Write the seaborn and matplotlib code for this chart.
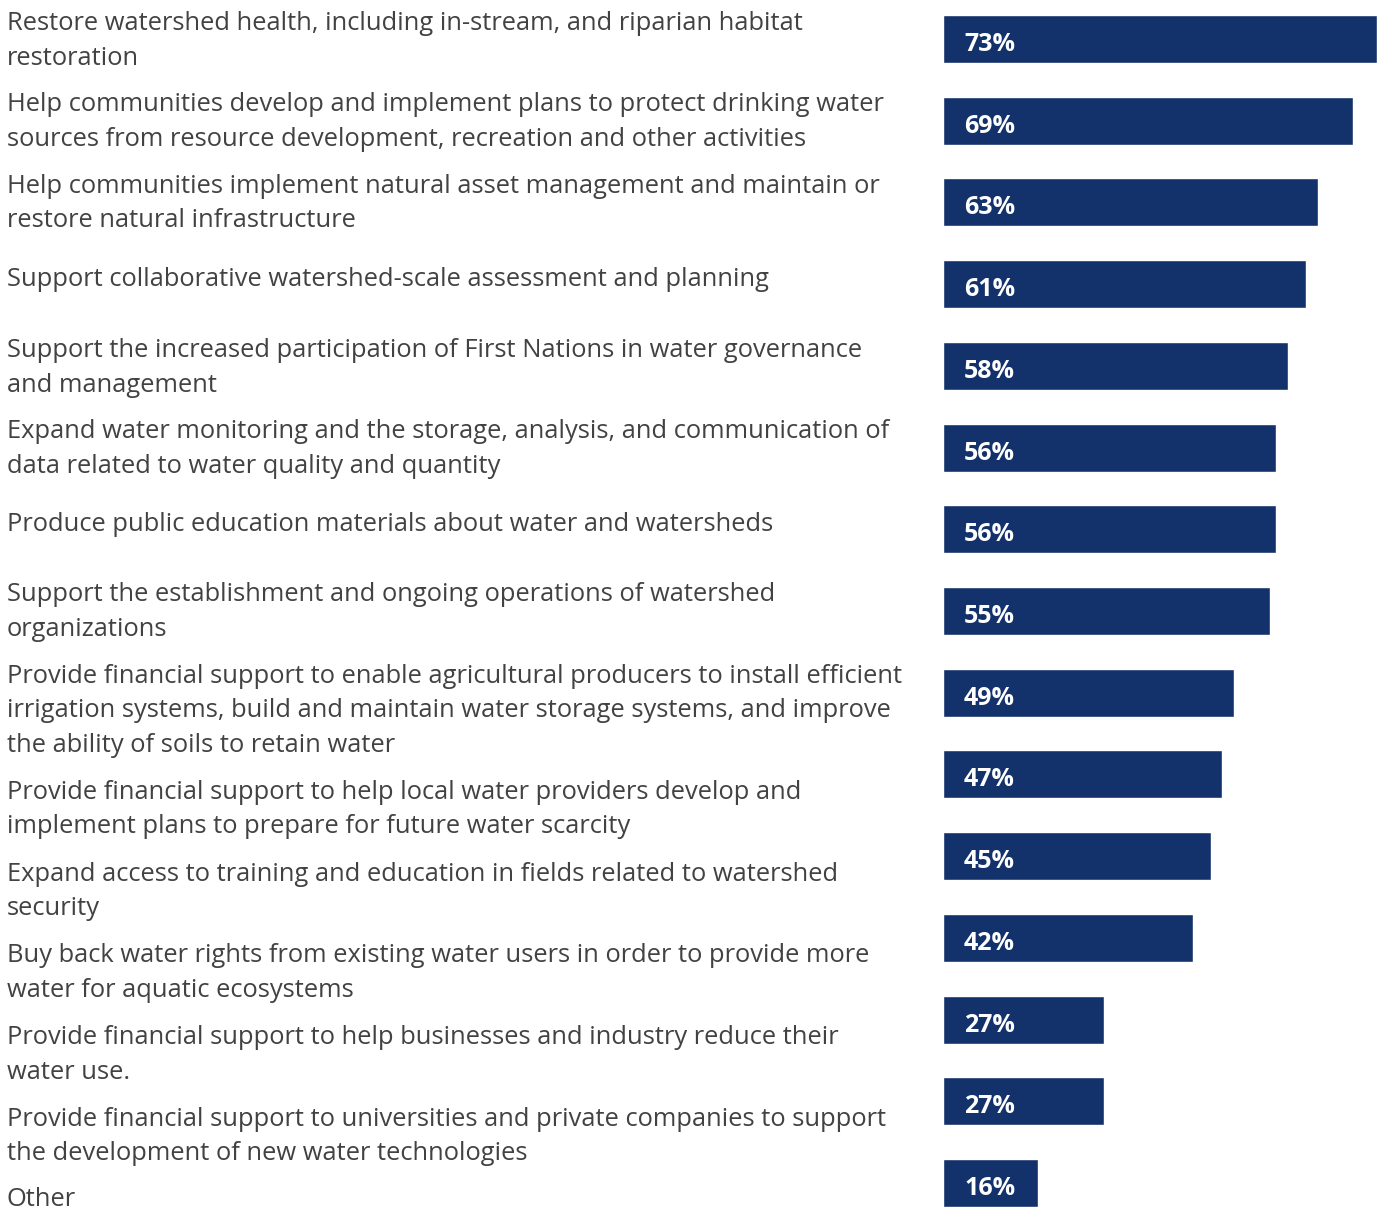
import matplotlib
matplotlib.use("Agg")
import matplotlib.pyplot as plt
import matplotlib.transforms as mtransforms
import seaborn as sns
import pandas as pd

categories = [
    "Restore watershed health, including in-stream, and riparian habitat\nrestoration",
    "Help communities develop and implement plans to protect drinking water\nsources from resource development, recreation and other activities",
    "Help communities implement natural asset management and maintain or\nrestore natural infrastructure",
    "Support collaborative watershed-scale assessment and planning",
    "Support the increased participation of First Nations in water governance\nand management",
    "Expand water monitoring and the storage, analysis, and communication of\ndata related to water quality and quantity",
    "Produce public education materials about water and watersheds",
    "Support the establishment and ongoing operations of watershed\norganizations",
    "Provide financial support to enable agricultural producers to install efficient\nirrigation systems, build and maintain water storage systems, and improve\nthe ability of soils to retain water",
    "Provide financial support to help local water providers develop and\nimplement plans to prepare for future water scarcity",
    "Expand access to training and education in fields related to watershed\nsecurity",
    "Buy back water rights from existing water users in order to provide more\nwater for aquatic ecosystems",
    "Provide financial support to help businesses and industry reduce their\nwater use.",
    "Provide financial support to universities and private companies to support\nthe development of new water technologies",
    "Other",
]
percentages = [73, 69, 63, 61, 58, 56, 56, 55, 49, 47, 45, 42, 27, 27, 16]

# vertical shift (pixels, downward) of each label's first baseline from its bar centre
label_shift_px = [-9, -10, -10, 2, -9, -10, 2, -10, -11, 24, 24, 24, 24, 24, 23]
line_step_px = 35

df = pd.DataFrame({"item": categories, "pct": percentages})

sns.set_theme(style="white")
plt.rcParams["font.family"] = ["Open Sans", "DejaVu Sans"]

W, H = 1381, 1207
fig = plt.figure(figsize=(W / 100, H / 100), dpi=100)

step = (1183 - 39) / 14
top_px = 39 - step / 2
bot_px = 1183 + step / 2
x0, x1 = 943, 1377
ax = fig.add_axes([x0 / W, (H - bot_px) / H, (x1 - x0) / W, (bot_px - top_px) / H])

bar_color = "#13326b"
sns.barplot(data=df, y="item", x="pct", orient="h", color=bar_color,
            width=48 / step, saturation=1, ax=ax)
ax.set_xlim(0, 73)
ax.set_ylim(len(categories) - 0.5, -0.5)
ax.axis("off")

text_color = "#424242"
for i, (label, val) in enumerate(zip(categories, percentages)):
    n_lines = label.count("\n") + 1
    shift = label_shift_px[i] + (n_lines - 1) * line_step_px
    trans = mtransforms.blended_transform_factory(fig.transFigure, ax.transData)
    trans = trans + mtransforms.ScaledTranslation(0, -shift / 100, fig.dpi_scale_trans)
    ax.text(7 / W, i, label, transform=trans, ha="left", va="baseline",
            fontsize=18.4, color=text_color, linespacing=1.5, clip_on=False)
    ax.annotate(f"{val}%", xy=(0, i), xytext=(21, -12), textcoords="offset pixels",
                ha="left", va="baseline", fontsize=18, fontweight="bold", color="white")

fig.savefig("out.png", dpi=100)
